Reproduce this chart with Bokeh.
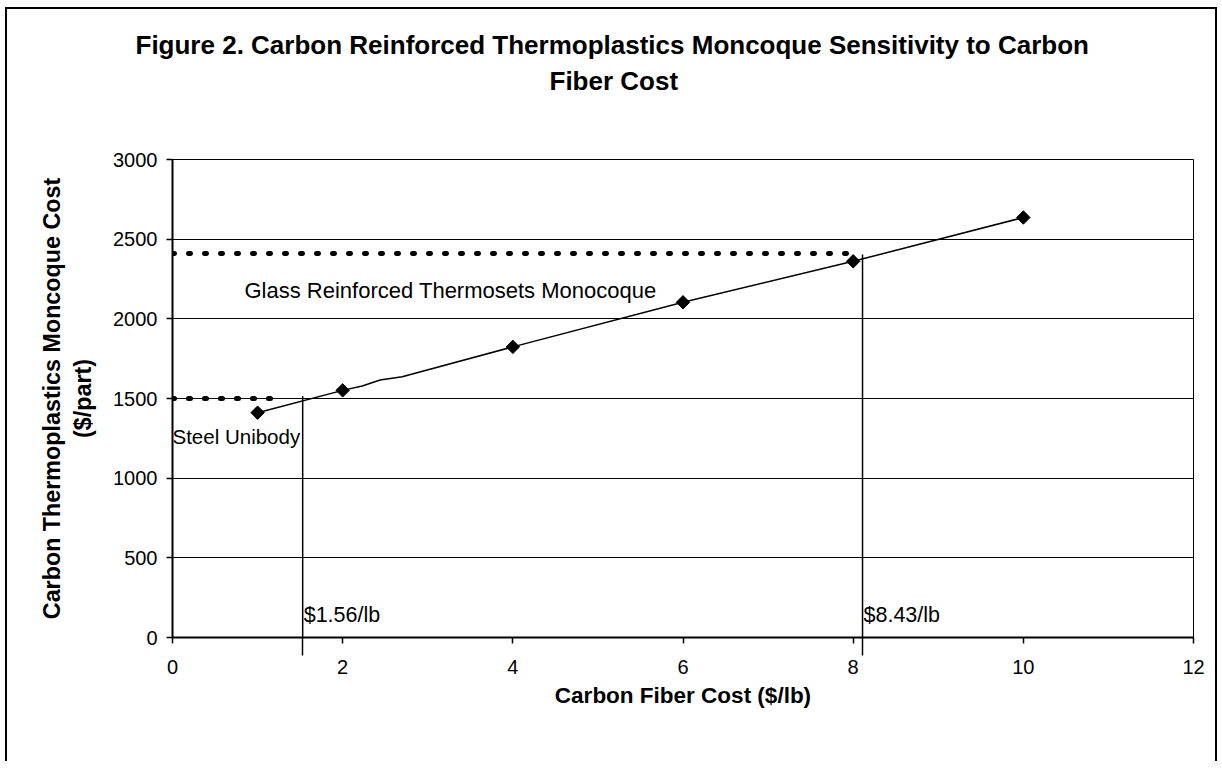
import numpy as np
from bokeh.plotting import figure
from bokeh.models import Label, Range1d, FixedTicker, Title, LinearAxis
from bokeh.embed import file_html
from bokeh.resources import INLINE

# ---- data ----
fiber_cost = [1, 2, 4, 6, 8, 10]
monocoque_cost = [1411, 1551, 1824, 2104, 2361, 2636]
curve_x = [1, 2, 2.23, 2.44, 2.70, 4, 6, 8, 10]
curve_y = [1411, 1551, 1578, 1616, 1637, 1824, 2104, 2361, 2636]
glass_x = [0, 8.05]
glass_y = [2410, 2410]
steel_x = [0, 1.31]
steel_y = [1500, 1500]
breakeven_x = [1.53, 8.11]
breakeven_top = [1515, 2403]
breakeven_labels = ["$1.56/lb", "$8.43/lb"]
x_ticks = [0, 2, 4, 6, 8, 10, 12]
y_ticks = [0, 500, 1000, 1500, 2000, 2500, 3000]
title_lines = ["Figure 2. Carbon Reinforced Thermoplastics Moncoque Sensitivity to Carbon",
               "Fiber Cost"]

FONT = "Liberation Sans"

p = figure(width=1212, height=754, title=None,
           x_range=Range1d(0, 12), y_range=Range1d(0, 3000),
           output_backend="svg", toolbar_location=None,
           min_border_left=165, min_border_right=26,
           min_border_top=150, min_border_bottom=126)
p.styles = {"border-top": "2px solid black", "border-left": "2px solid black",
            "border-right": "2px solid black", "margin-left": "5px", "margin-top": "7px"}

p.background_fill_color = "white"
p.border_fill_color = "white"
p.outline_line_color = "black"
p.outline_line_width = 1

p.xgrid.visible = False
p.ygrid.grid_line_color = "black"
p.ygrid.grid_line_width = 1

# x axis: major ticks at the tick values; the break-even verticals continue
# below the axis as long "minor" ticks at the break-even positions
p.xaxis.ticker = FixedTicker(ticks=x_ticks, minor_ticks=breakeven_x)
p.yaxis.ticker = FixedTicker(ticks=y_ticks)
for ax in (p.xaxis[0], p.yaxis[0]):
    ax.axis_line_color = "black"
    ax.axis_line_width = 2
    ax.major_tick_line_color = "black"
    ax.major_tick_line_width = 1.5
    ax.major_tick_out = 6
    ax.major_tick_in = 0
    ax.major_label_text_font = FONT
    ax.major_label_text_font_size = "20px"
    ax.major_label_text_color = "black"
    ax.axis_label_text_font = FONT
    ax.axis_label_text_font_style = "bold"
    ax.axis_label_text_color = "black"
p.yaxis.minor_tick_line_color = None
p.xaxis.minor_tick_line_color = "black"
p.xaxis.minor_tick_line_width = 1.5
p.xaxis.minor_tick_in = 0
p.xaxis.minor_tick_out = 18

p.xaxis.major_label_standoff = 4
p.yaxis.major_label_standoff = 9
p.xaxis.axis_label = "Carbon Fiber Cost ($/lb)"
p.xaxis.axis_label_text_font_size = "22.5px"
p.xaxis.axis_label_standoff = 6
p.yaxis.axis_label = "Carbon Thermoplastics Moncoque Cost\n($/part)"
p.yaxis.axis_label_text_font_size = "23.3px"
p.yaxis.axis_label_standoff = 14

# invisible spacer between plot frame and title (one transparent tick, empty label)
spacer = LinearAxis(ticker=FixedTicker(ticks=[0]), axis_line_color=None,
                    major_tick_line_color="white", major_tick_line_alpha=0.01,
                    minor_tick_line_color=None,
                    major_tick_out=62, major_tick_in=0, minor_tick_out=0, minor_tick_in=0,
                    major_label_standoff=0, major_label_overrides={0: ""},
                    major_label_text_font_size="1px")
p.add_layout(spacer, "above")

# title: two centred lines (left aligned boxes shifted to centre on the figure)
for line, off in ((title_lines[1], 377), (title_lines[0], -37)):
    p.add_layout(Title(text=line, align="left", offset=off, standoff=4,
                       text_font=FONT, text_font_size="26px", text_font_style="bold",
                       text_color="black"), "above")

# reference lines (dotted)
p.line(glass_x, glass_y, line_color="black", line_width=5, line_dash="2 14", line_cap="round")
p.line(steel_x, steel_y, line_color="black", line_width=5, line_dash="2 14", line_cap="round")

# break-even verticals
p.segment(x0=breakeven_x, y0=[0, 0], x1=breakeven_x, y1=breakeven_top,
          line_color="black", line_width=1.5)

# main curve
p.line(curve_x, curve_y, line_color="black", line_width=1.5)
p.scatter(fiber_cost, monocoque_cost, marker="square", angle=np.pi / 4, size=9.5,
          fill_color="black", line_color="black")

# annotations
p.add_layout(Label(x=glass_x[0], y=glass_y[0], x_offset=72, y_offset=-37,
                   text="Glass Reinforced Thermosets Monocoque",
                   text_font=FONT, text_font_size="22px", text_color="black",
                   text_baseline="alphabetic"))
p.add_layout(Label(x=steel_x[0], y=steel_y[0], x_offset=0, y_offset=-38,
                   text="Steel Unibody",
                   text_font=FONT, text_font_size="20.5px", text_color="black",
                   text_baseline="alphabetic"))
for bx, lab in zip(breakeven_x, breakeven_labels):
    p.add_layout(Label(x=bx, y=0, x_offset=1, y_offset=23, text=lab,
                       text_font=FONT, text_font_size="21.5px", text_color="black",
                       text_baseline="alphabetic"))

open("out.html", "w").write(file_html(p, INLINE))
